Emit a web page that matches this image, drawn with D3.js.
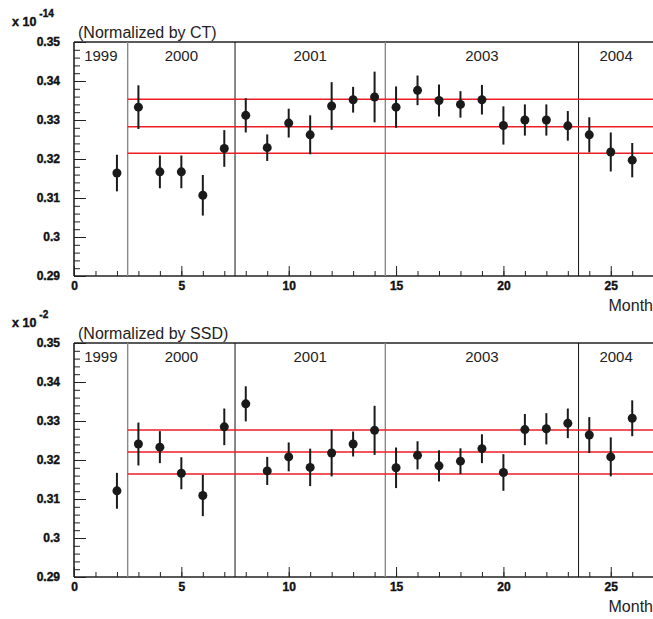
<!DOCTYPE html>
<html>
<head>
<meta charset="utf-8">
<script src="https://cdn.jsdelivr.net/npm/d3@7"></script>
<style>
  body { margin: 0; background: #fff; }
  svg text { font-family: "Liberation Sans", Arial, Helvetica, sans-serif; }
  .tick-label text { font-weight: bold; font-size: 12px; fill: #111; stroke: #111; stroke-width: 0.4px; }
</style>
</head>
<body>
<div id="chart"></div>
<script>
// month index of each measurement
const months = [2,3,4,5,6,7,8,9,10,11,12,13,14,15,16,17,18,19,20,21,22,23,24,25,26];

// normalized by CT (x 10^-14)
const ctValues = [0.3164,0.3333,0.3167,0.3167,0.3107,0.3227,0.3312,0.3229,0.3292,0.3262,0.3336,0.3352,0.3359,
                  0.3333,0.3376,0.3350,0.3340,0.3352,0.3286,0.3300,0.3300,0.3285,0.3262,0.3218,0.3197];
const ctErrors = [0.0047,0.0056,0.0042,0.0042,0.0052,0.0047,0.0044,0.0034,0.0037,0.0050,0.0061,0.0033,0.0065,
                  0.0053,0.0038,0.0041,0.0034,0.0038,0.0049,0.0040,0.0040,0.0038,0.0045,0.0050,0.0044];
const ctBands = [0.32146, 0.32828, 0.33531];

// normalized by SSD (x 10^-2)
const ssdValues = [0.3121,0.3241,0.3233,0.3166,0.3109,0.3285,0.3344,0.3172,0.3208,0.3181,0.3218,0.3241,0.3276,
                   0.3180,0.3212,0.3185,0.3197,0.3229,0.3168,0.3278,0.3280,0.3294,0.3264,0.3208,0.3307];
const ssdErrors = [0.0046,0.0055,0.0041,0.0041,0.0053,0.0047,0.0045,0.0036,0.0037,0.0048,0.0060,0.0032,0.0063,
                   0.0052,0.0036,0.0040,0.0033,0.0037,0.0047,0.0040,0.0040,0.0038,0.0046,0.0050,0.0046];
const ssdBands = [0.31641, 0.32205, 0.32769];

const yearNames = ['1999','2000','2001','2003','2004'];
const yearEdges = [0, 2.5, 7.5, 14.5, 23.5, 27];

const W = 653, H = 619;
const svg = d3.select('#chart').append('svg')
    .attr('width', W)
    .attr('height', H);

const x = d3.scaleLinear().domain([0, 27]).range([74, 653.7]);

function drawPanel(top, values, errors, bands, title, expo) {
    const bottom = top + 234;
    const y = d3.scaleLinear().domain([0.29, 0.35]).range([bottom, top]);
    const g = svg.append('g');

    // minor y ticks
    g.append('g')
        .attr('transform', 'translate(' + x(0) + ',0)')
        .call(d3.axisLeft(y).tickValues(d3.range(0.29, 0.3501, 0.002)).tickSize(-6).tickFormat(''))
        .call(a => a.select('.domain').remove())
        .selectAll('line').attr('stroke', '#222');

    // major y ticks
    g.append('g')
        .attr('class', 'tick-label')
        .attr('transform', 'translate(' + x(0) + ',0)')
        .call(d3.axisLeft(y).tickValues([0.29,0.30,0.31,0.32,0.33,0.34,0.35]).tickSize(-12).tickPadding(14)
              .tickFormat(d => d3.format('~g')(+d.toFixed(2))))
        .call(a => a.select('.domain').remove())
        .selectAll('line').attr('stroke', '#222');

    // minor x ticks
    g.append('g')
        .attr('transform', 'translate(0,' + bottom + ')')
        .call(d3.axisBottom(x).tickValues(d3.range(0, 28, 1)).tickSize(-5).tickFormat(''))
        .call(a => a.select('.domain').remove())
        .selectAll('line').attr('stroke', '#222');

    // major x ticks
    g.append('g')
        .attr('class', 'tick-label')
        .attr('transform', 'translate(0,' + bottom + ')')
        .call(d3.axisBottom(x).tickValues([0,5,10,15,20,25]).tickSize(-10).tickPadding(5))
        .call(a => a.select('.domain').remove())
        .selectAll('line').attr('stroke', '#222');

    // frame
    g.append('line').attr('x1', x(0)).attr('x2', W).attr('y1', top).attr('y2', top)
        .attr('stroke', '#222').attr('stroke-width', 1.6);
    g.append('line').attr('x1', x(0)).attr('x2', W).attr('y1', bottom).attr('y2', bottom)
        .attr('stroke', '#222').attr('stroke-width', 1.6);
    g.append('line').attr('x1', x(0)).attr('x2', x(0)).attr('y1', top).attr('y2', bottom)
        .attr('stroke', '#222').attr('stroke-width', 1.6);

    // year separators
    g.selectAll('.sep')
        .data(yearEdges.slice(1, -1))
        .enter()
        .append('line')
        .attr('x1', d => x(d)).attr('x2', d => x(d))
        .attr('y1', top).attr('y2', bottom)
        .attr('stroke', (d, i) => i % 2 === 0 ? '#888' : '#111')
        .attr('stroke-width', (d, i) => i % 2 === 0 ? 1.4 : 1);

    // year labels
    g.selectAll('.year')
        .data(yearNames)
        .enter()
        .append('text')
        .attr('x', (d, i) => x((yearEdges[i] + yearEdges[i + 1]) / 2))
        .attr('y', top + 19)
        .attr('text-anchor', 'middle')
        .style('font-size', '15px')
        .style('fill', '#222')
        .text(d => d);

    // red reference lines
    g.selectAll('.band')
        .data(bands)
        .enter()
        .append('line')
        .attr('x1', x(2.5)).attr('x2', W)
        .attr('y1', d => y(d)).attr('y2', d => y(d))
        .attr('stroke', '#ee1c24')
        .attr('stroke-width', 1.4);

    // error bars
    g.selectAll('.err')
        .data(months)
        .enter()
        .append('line')
        .attr('x1', d => x(d)).attr('x2', d => x(d))
        .attr('y1', (d, i) => y(values[i] - errors[i]))
        .attr('y2', (d, i) => y(values[i] + errors[i]))
        .attr('stroke', '#1a1a1a')
        .attr('stroke-width', 2);

    // points
    g.selectAll('.pt')
        .data(months)
        .enter()
        .append('circle')
        .attr('cx', d => x(d))
        .attr('cy', (d, i) => y(values[i]))
        .attr('r', 4.5)
        .style('fill', '#1a1a1a');

    // title
    g.append('text')
        .attr('x', 78).attr('y', top - 4)
        .style('font-size', '16px')
        .style('fill', '#222')
        .text(title);

    // exponent
    const ex = g.append('text')
        .attr('x', 12).attr('y', top - 16)
        .style('font-size', '12.5px')
        .style('font-weight', 'bold')
        .style('fill', '#111')
        .style('stroke', '#111')
        .style('stroke-width', '0.4px');
    ex.append('tspan').text('x 10');
    ex.append('tspan').attr('dx', 3).attr('dy', -9).style('font-size', '10px').text(expo);

    // axis title
    g.append('text')
        .attr('x', W).attr('y', bottom + 35)
        .attr('text-anchor', 'end')
        .style('font-size', '16px')
        .style('fill', '#222')
        .text('Month');
}

drawPanel(42, ctValues, ctErrors, ctBands, '(Normalized by CT)', '-14');
drawPanel(343, ssdValues, ssdErrors, ssdBands, '(Normalized by SSD)', '-2');
</script>
</body>
</html>
